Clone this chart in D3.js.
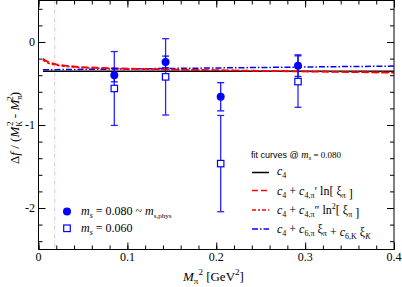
<!DOCTYPE html>
<html><head><meta charset="utf-8">
<script src="https://cdn.jsdelivr.net/npm/d3@7"></script>
<style>body{margin:0;background:#fff}svg{display:block}text{font-family:"Liberation Serif","DejaVu Serif",serif}</style>
</head><body><svg id="c" width="402" height="287"></svg>
<script>
// ---- data ----
const mpi2 = [0.0853, 0.143, 0.205, 0.292];
const ms080 = [-0.40, -0.24, -0.66, -0.285];
const err080 = [0.08, 0.07, 0.17, 0.13];
const ms060 = [-0.56, -0.42, -1.465, -0.477];
const err060 = [0.445, 0.46, 0.58, 0.31];
const physMpi2 = 0.0182;
const fitC4X = [0.005, 0.4];
const fitC4Y = [-0.353, -0.353];
const fitLnX = [0.005, 0.008, 0.012, 0.02, 0.03, 0.045, 0.065, 0.09, 0.12, 0.16, 0.2, 0.25, 0.3, 0.35, 0.4];
const fitLnY = [-0.20, -0.225, -0.245, -0.27, -0.285, -0.30, -0.31, -0.318, -0.325, -0.333, -0.34, -0.348, -0.355, -0.362, -0.37];
const fitLn2X = [0.005, 0.008, 0.012, 0.02, 0.03, 0.045, 0.065, 0.09, 0.12, 0.16, 0.2, 0.25, 0.3, 0.35, 0.4];
const fitLn2Y = [-0.215, -0.24, -0.26, -0.28, -0.295, -0.308, -0.316, -0.322, -0.328, -0.335, -0.341, -0.348, -0.354, -0.36, -0.366];
const fitLinX = [0.005, 0.4];
const fitLinY = [-0.335, -0.29];
const xTickLabels = ["0", "0.1", "0.2", "0.3", "0.4"];
const yTickLabels = ["-2", "-1", "0"];

const svg = d3.select("#c");
const L = 38.5, R = 394, T = 0.5, B = 249.5;
const x = d3.scaleLinear().domain([0, 0.4]).range([L, R]);
const y = d3.scaleLinear().domain([-2.5, 0.5]).range([B, T]);

// phys line
svg.append("line").attr("x1", x(physMpi2)).attr("x2", x(physMpi2)).attr("y1", T).attr("y2", B)
  .attr("stroke", "#e6cccc").attr("stroke-width", 1.2).attr("stroke-dasharray", "4,2,1,2");

// axes with inward ticks
const xMinor = d3.range(0, 0.4001, 0.02);
const xMajor = [0, 0.1, 0.2, 0.3, 0.4];
const yMinor = d3.range(-2.4, 0.5001, 0.2);
const yMajor = [-2, -1, 0];
function ax(axisGen, tx, ty) { return svg.append("g").attr("transform", `translate(${tx},${ty})`).call(axisGen); }
const style = g => { g.select(".domain").remove(); g.selectAll("line").attr("stroke", "#000"); g.selectAll("text").remove(); };
ax(d3.axisTop(x).tickValues(xMinor).tickSize(4), 0, B).call(style);
ax(d3.axisTop(x).tickValues(xMajor).tickSize(7), 0, B).call(style);
ax(d3.axisBottom(x).tickValues(xMinor).tickSize(4), 0, T).call(style);
ax(d3.axisBottom(x).tickValues(xMajor).tickSize(7), 0, T).call(style);
ax(d3.axisRight(y).tickValues(yMinor).tickSize(4), L, 0).call(style);
ax(d3.axisRight(y).tickValues(yMajor).tickSize(7), L, 0).call(style);
ax(d3.axisLeft(y).tickValues(yMinor).tickSize(4), R, 0).call(style);
ax(d3.axisLeft(y).tickValues(yMajor).tickSize(7), R, 0).call(style);

// tick labels
svg.selectAll(".xl").data(xMajor).enter().append("text").attr("x", d => x(d)).attr("y", 261)
  .attr("text-anchor", "middle").attr("font-size", 12).text((d, i) => xTickLabels[i]);
svg.selectAll(".yl").data(yMajor).enter().append("text").attr("x", 35).attr("y", d => y(d) + 4)
  .attr("text-anchor", "end").attr("font-size", 12).text((d, i) => yTickLabels[i]);

// fit curves
const line = d3.line().x(d => x(d[0])).y(d => y(d[1]));
const zip = (a, b) => a.map((v, i) => [v, b[i]]);
const gc = svg.append("g");
gc.append("path").attr("d", line(zip(fitC4X, fitC4Y))).attr("fill", "none").attr("stroke", "#000").attr("stroke-width", 1.5);
gc.append("path").attr("d", line(zip(fitLinX, fitLinY))).attr("fill", "none").attr("stroke", "#0000ff").attr("stroke-width", 1.5).attr("stroke-dasharray", "6,2,1.5,2");
gc.append("path").attr("d", line(zip(fitLn2X, fitLn2Y))).attr("fill", "none").attr("stroke", "#ff0000").attr("stroke-width", 1.5).attr("stroke-dasharray", "3,2");
gc.append("path").attr("d", line(zip(fitLnX, fitLnY))).attr("fill", "none").attr("stroke", "#ff0000").attr("stroke-width", 1.8).attr("stroke-dasharray", "7,3");

// error bars + markers
function errs(vals, errs, op) {
  const g = svg.append("g").attr("stroke", "#0000ff").attr("stroke-width", 1.3).attr("opacity", op);
  mpi2.forEach((mx, i) => {
    const xp = x(mx), y1 = y(vals[i] + errs[i]), y2 = y(vals[i] - errs[i]);
    g.append("line").attr("x1", xp).attr("x2", xp).attr("y1", y1).attr("y2", y2);
    g.append("line").attr("x1", xp - 3.5).attr("x2", xp + 3.5).attr("y1", y1).attr("y2", y1);
    g.append("line").attr("x1", xp - 3.5).attr("x2", xp + 3.5).attr("y1", y2).attr("y2", y2);
  });
}
errs(ms060, err060, 0.85);
errs(ms080, err080, 0.9);
svg.selectAll(".sq").data(mpi2).enter().append("rect")
  .attr("x", (d) => x(d) - 3.2).attr("y", (d, i) => y(ms060[i]) - 3.2).attr("width", 6.4).attr("height", 6.4)
  .attr("fill", "#fff").attr("stroke", "#0000ff").attr("stroke-width", 1.2);
svg.selectAll(".ci").data(mpi2).enter().append("circle")
  .attr("cx", d => x(d)).attr("cy", (d, i) => y(ms080[i])).attr("r", 4).attr("fill", "#0000ff");

// frame
svg.append("rect").attr("x", L).attr("y", T).attr("width", R - L).attr("height", B - T)
  .attr("fill", "none").attr("stroke", "#000").attr("stroke-width", 1);

// axis titles
const xt = svg.append("text").attr("x", 183).attr("y", 281).attr("font-size", 13);
xt.append("tspan").attr("font-style", "italic").text("M");
xt.append("tspan").attr("font-size", 9).attr("dy", 3).text("π");
xt.append("tspan").attr("font-size", 9).attr("dy", -9).text("2");
xt.append("tspan").attr("dy", 6).text(" [GeV");
xt.append("tspan").attr("font-size", 9).attr("dy", -6).text("2");
xt.append("tspan").attr("dy", 6).text("]");

const yt = svg.append("text").attr("transform", "translate(19,164) rotate(-90)").attr("font-size", 13);
yt.append("tspan").text("Δ");
yt.append("tspan").attr("font-style", "italic").text("f");
yt.append("tspan").text(" / (");
yt.append("tspan").attr("font-style", "italic").text("M");
yt.append("tspan").attr("font-size", 8).attr("dy", 3).text("K");
yt.append("tspan").attr("font-size", 9).attr("dy", -9).attr("dx", -5).text("2");
yt.append("tspan").attr("dy", 6).text(" - ");
yt.append("tspan").attr("font-style", "italic").text("M");
yt.append("tspan").attr("font-size", 8).attr("dy", 3).text("π");
yt.append("tspan").attr("font-size", 9).attr("dy", -9).attr("dx", -5).text("2");
yt.append("tspan").attr("dy", 6).text(")");

// legend: data
svg.append("circle").attr("cx", 67).attr("cy", 211.5).attr("r", 4).attr("fill", "#0000ff");
svg.append("rect").attr("x", 63.7).attr("y", 225).attr("width", 6.6).attr("height", 6.6).attr("fill", "#fff").attr("stroke", "#0000ff").attr("stroke-width", 1.2);
function ms(tx, ty, rest) {
  const t = svg.append("text").attr("x", tx).attr("y", ty).attr("font-size", 12);
  t.append("tspan").attr("font-style", "italic").text("m");
  t.append("tspan").attr("font-style", "italic").attr("font-size", 8).attr("dy", 3).text("s");
  t.append("tspan").attr("dy", -3).text(rest);
  return t;
}
const t1 = ms(81, 215, " =  0.080 ~ ");
t1.append("tspan").attr("font-style", "italic").text("m");
t1.append("tspan").attr("font-size", 7).attr("dy", 3).text("s,phys");
ms(81, 231.5, " = 0.060");

// legend: fits
const fh = svg.append("text").attr("x", 251).attr("y", 158).attr("font-size", 9).style("font-family", "'Liberation Sans', Arial, sans-serif");
fh.append("tspan").text("fit curves @ ");
fh.append("tspan").attr("font-style", "italic").style("font-family", "'Liberation Serif', serif").attr("font-size", 10).text("m");
fh.append("tspan").attr("font-style", "italic").style("font-family", "'Liberation Serif', serif").attr("font-size", 7).attr("dy", 2).text("s");
fh.append("tspan").attr("dy", -2).style("font-family", "'Liberation Serif', serif").attr("font-size", 9).text(" = 0.080");

const legY = [172.5, 190.5, 210, 229];
const legStyles = [
  {c: "#000", d: null, w: 1.5},
  {c: "#ff0000", d: "6,3", w: 1.6},
  {c: "#ff0000", d: "4,2,2,2", w: 1.4},
  {c: "#0000ff", d: "6,2,1.5,2", w: 1.4}
];
legY.forEach((ly, i) => {
  const s = legStyles[i];
  const l = svg.append("line").attr("x1", 252).attr("x2", 269).attr("y1", ly).attr("y2", ly).attr("stroke", s.c).attr("stroke-width", s.w);
  if (s.d) l.attr("stroke-dasharray", s.d);
});
function c4(t) {
  t.append("tspan").attr("font-style", "italic").text("c");
  t.append("tspan").attr("font-size", 8).attr("dy", 3).text("4");
  t.append("tspan").attr("dy", -3).text(" + ");
}
function sub(t, s) { t.append("tspan").attr("font-size", 8).attr("dy", 3).text(s); t.append("tspan").attr("dy", -3).text(""); }
{
  const t = svg.append("text").attr("x", 277).attr("y", legY[0] + 2).attr("font-size", 12);
  t.append("tspan").attr("font-style", "italic").text("c");
  t.append("tspan").attr("font-size", 8).attr("dy", 3).text("4");
}
{
  const t = svg.append("text").attr("x", 277).attr("y", legY[1] + 4).attr("font-size", 12);
  c4(t);
  t.append("tspan").attr("font-style", "italic").text("c");
  t.append("tspan").attr("font-size", 8).attr("dy", 3).text("4,π");
  t.append("tspan").attr("dy", -3).text("′ ln[ ξ");
  sub(t, "π");
  t.append("tspan").text(" ]");
}
{
  const t = svg.append("text").attr("x", 277).attr("y", legY[2] + 4).attr("font-size", 12);
  c4(t);
  t.append("tspan").attr("font-style", "italic").text("c");
  t.append("tspan").attr("font-size", 8).attr("dy", 3).text("4,π");
  t.append("tspan").attr("dy", -3).text("″ ln");
  t.append("tspan").attr("font-size", 8).attr("dy", -5).text("2");
  t.append("tspan").attr("dy", 5).text("[ ξ");
  sub(t, "π");
  t.append("tspan").text(" ]");
}
{
  const t = svg.append("text").attr("x", 277).attr("y", legY[3] + 4).attr("font-size", 12);
  c4(t);
  t.append("tspan").attr("font-style", "italic").text("c");
  t.append("tspan").attr("font-size", 8).attr("dy", 3).text("6,π");
  t.append("tspan").attr("dy", -3).text(" ξ");
  sub(t, "π");
  t.append("tspan").text(" + ");
  t.append("tspan").attr("font-style", "italic").text("c");
  t.append("tspan").attr("font-size", 8).attr("dy", 3).text("6,K");
  t.append("tspan").attr("dy", -3).text(" ξ");
  t.append("tspan").attr("font-size", 8).attr("font-style", "italic").attr("dy", 3).text("K");
}
</script></body></html>
